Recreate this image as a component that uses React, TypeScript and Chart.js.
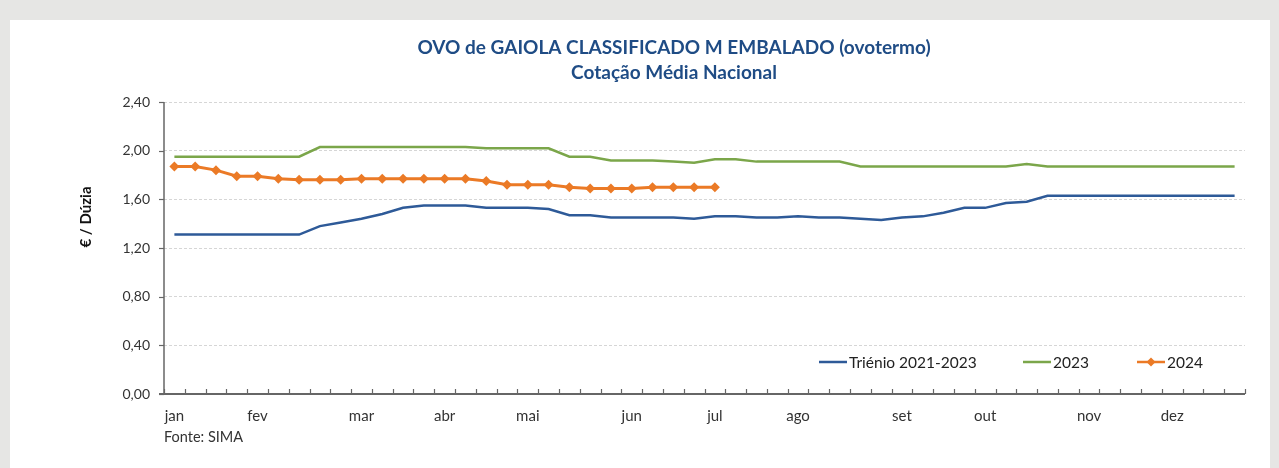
import React, { useEffect, useRef } from "react";
import { Chart, registerables } from "chart.js";

Chart.register(...registerables);

const titleLines = ["OVO de GAIOLA CLASSIFICADO M EMBALADO (ovotermo)", "Cotação Média Nacional"];
const yAxisTitle = "€ / Dúzia";
const sourceNote = "Fonte: SIMA";

const monthNames = ["jan", "fev", "mar", "abr", "mai", "jun", "jul", "ago", "set", "out", "nov", "dez"];
const monthWeekIndex = [0, 4, 9, 13, 17, 22, 26, 30, 35, 39, 44, 48];
const weekCount = 52;

const trienio = [
  1.31, 1.31, 1.31, 1.31, 1.31, 1.31, 1.31, 1.38, 1.41, 1.44,
  1.48, 1.53, 1.55, 1.55, 1.55, 1.53, 1.53, 1.53, 1.52, 1.47,
  1.47, 1.45, 1.45, 1.45, 1.45, 1.44, 1.46, 1.46, 1.45, 1.45,
  1.46, 1.45, 1.45, 1.44, 1.43, 1.45, 1.46, 1.49, 1.53, 1.53,
  1.57, 1.58, 1.63, 1.63, 1.63, 1.63, 1.63, 1.63, 1.63, 1.63,
  1.63, 1.63,
];

const year2023 = [
  1.95, 1.95, 1.95, 1.95, 1.95, 1.95, 1.95, 2.03, 2.03, 2.03,
  2.03, 2.03, 2.03, 2.03, 2.03, 2.02, 2.02, 2.02, 2.02, 1.95,
  1.95, 1.92, 1.92, 1.92, 1.91, 1.90, 1.93, 1.93, 1.91, 1.91,
  1.91, 1.91, 1.91, 1.87, 1.87, 1.87, 1.87, 1.87, 1.87, 1.87,
  1.87, 1.89, 1.87, 1.87, 1.87, 1.87, 1.87, 1.87, 1.87, 1.87,
  1.87, 1.87,
];

const year2024 = [
  1.87, 1.87, 1.84, 1.79, 1.79, 1.77, 1.76, 1.76, 1.76, 1.77,
  1.77, 1.77, 1.77, 1.77, 1.77, 1.75, 1.72, 1.72, 1.72, 1.70,
  1.69, 1.69, 1.69, 1.70, 1.70, 1.70, 1.70,
];

const seriesNames = ["Triénio 2021-2023", "2023", "2024"];
const yTicks = { min: 0, max: 2.4, step: 0.4 };

const COLORS = { blue: "#2E5A98", green: "#7BA64A", orange: "#EB7A26" };
const FONT = "Lato, 'Open Sans', sans-serif";
const TEXT = "#333";

const weekLabels: string[] = Array.from({ length: weekCount }, () => "");
monthWeekIndex.forEach((w, i) => (weekLabels[w] = monthNames[i]));

const decor = {
  id: "decor",
  afterDraw(chart: any) {
    const { ctx, chartArea: a } = chart;
    const ys = chart.scales.y;
    ctx.save();
    // axis lines
    ctx.strokeStyle = "#666";
    ctx.lineWidth = 1.5;
    ctx.beginPath();
    ctx.moveTo(a.left, a.top);
    ctx.lineTo(a.left, a.bottom);
    ctx.stroke();
    ctx.lineWidth = 2;
    ctx.beginPath();
    ctx.moveTo(a.left - 5, a.bottom);
    ctx.lineTo(a.right, a.bottom);
    ctx.stroke();
    // y tick marks
    ctx.lineWidth = 1.2;
    for (let v = yTicks.min; v <= yTicks.max + 1e-9; v += yTicks.step) {
      const y = Math.round(ys.getPixelForValue(v)) + 0.5;
      ctx.beginPath();
      ctx.moveTo(a.left - 5, y);
      ctx.lineTo(a.left, y);
      ctx.stroke();
    }
    // x tick marks (category boundaries, inside)
    for (let i = 0; i <= weekCount; i++) {
      const x = Math.round(a.left + ((a.right - a.left) * i) / weekCount) + 0.5;
      ctx.beginPath();
      ctx.moveTo(x, a.bottom);
      ctx.lineTo(x, a.bottom - 5);
      ctx.stroke();
    }
    // title
    ctx.fillStyle = "#1F4C85";
    ctx.font = `bold 19px ${FONT}`;
    ctx.textAlign = "center";
    ctx.textBaseline = "middle";
    ctx.fillText(titleLines[0], 674, 48);
    ctx.fillText(titleLines[1], 674, 73);
    // y axis title
    ctx.save();
    ctx.translate(86, 217);
    ctx.rotate(-Math.PI / 2);
    ctx.fillStyle = "#111";
    ctx.font = `bold 15px ${FONT}`;
    ctx.fillText(yAxisTitle, 0, 0);
    ctx.restore();
    // source
    ctx.fillStyle = TEXT;
    ctx.font = `14.5px ${FONT}`;
    ctx.textAlign = "left";
    ctx.fillText(sourceNote, 164, 437);
    // legend
    const ly = 362;
    const items = [
      { x: 819, color: COLORS.blue, marker: false, label: seriesNames[0] },
      { x: 1023, color: COLORS.green, marker: false, label: seriesNames[1] },
      { x: 1137, color: COLORS.orange, marker: true, label: seriesNames[2] },
    ];
    ctx.font = `15.5px ${FONT}`;
    items.forEach((it) => {
      ctx.strokeStyle = it.color;
      ctx.lineWidth = 2.5;
      ctx.beginPath();
      ctx.moveTo(it.x, ly);
      ctx.lineTo(it.x + 28, ly);
      ctx.stroke();
      if (it.marker) {
        ctx.fillStyle = it.color;
        const cx = it.x + 14;
        ctx.beginPath();
        ctx.moveTo(cx, ly - 4.5);
        ctx.lineTo(cx + 4.5, ly);
        ctx.lineTo(cx, ly + 4.5);
        ctx.lineTo(cx - 4.5, ly);
        ctx.closePath();
        ctx.fill();
      }
      ctx.fillStyle = "#222";
      ctx.textAlign = "left";
      ctx.fillText(it.label, it.x + 30, ly + 1);
    });
    ctx.restore();
  },
};

export default function App() {
  const ref = useRef<HTMLCanvasElement | null>(null);
  useEffect(() => {
    if (!ref.current) return;
    const chart = new Chart(ref.current, {
      type: "line",
      data: {
        labels: weekLabels,
        datasets: [
          {
            label: seriesNames[0],
            data: trienio,
            borderColor: COLORS.blue,
            borderWidth: 2.5,
            pointRadius: 0,
            tension: 0,
          },
          {
            label: seriesNames[1],
            data: year2023,
            borderColor: COLORS.green,
            borderWidth: 2.5,
            pointRadius: 0,
            tension: 0,
          },
          {
            label: seriesNames[2],
            data: year2024,
            borderColor: COLORS.orange,
            backgroundColor: COLORS.orange,
            borderWidth: 3,
            pointStyle: "rectRot",
            pointRadius: 5,
            pointBorderWidth: 0,
            tension: 0,
          },
        ],
      },
      options: {
        animation: false,
        responsive: false,
        devicePixelRatio: 1,
        layout: { padding: { left: 0, right: 34, top: 102, bottom: 0 } },
        plugins: { legend: { display: false }, title: { display: false }, tooltip: { enabled: false } },
        scales: {
          x: {
            offset: true,
            grid: { display: false },
            border: { display: false },
            ticks: {
              autoSkip: false,
              maxRotation: 0,
              minRotation: 0,
              padding: 5,
              color: TEXT,
              font: { family: FONT, size: 15 },
            },
            afterFit: (s: any) => {
              s.height = 74;
            },
          },
          y: {
            min: yTicks.min,
            max: yTicks.max,
            grid: { color: "#d6d6d6", lineWidth: 1, drawTicks: false },
            border: { display: false, dash: [3, 2] },
            ticks: {
              stepSize: yTicks.step,
              padding: 14,
              color: TEXT,
              font: { family: FONT, size: 14 },
              callback: (v: any) => Number(v).toFixed(2).replace(".", ","),
            },
            afterFit: (s: any) => {
              s.width = 164;
            },
          },
        },
      },
      plugins: [decor],
    });
    return () => chart.destroy();
  }, []);

  return (
    <div style={{ position: "fixed", left: 0, top: 0, width: 1279, height: 468, background: "#e6e6e4" }}>
      <div style={{ position: "absolute", left: 10, top: 20, width: 1260, height: 448, background: "#fff" }} />
      <canvas ref={ref} width={1279} height={468} style={{ position: "absolute", left: 0, top: 0 }} />
    </div>
  );
}
